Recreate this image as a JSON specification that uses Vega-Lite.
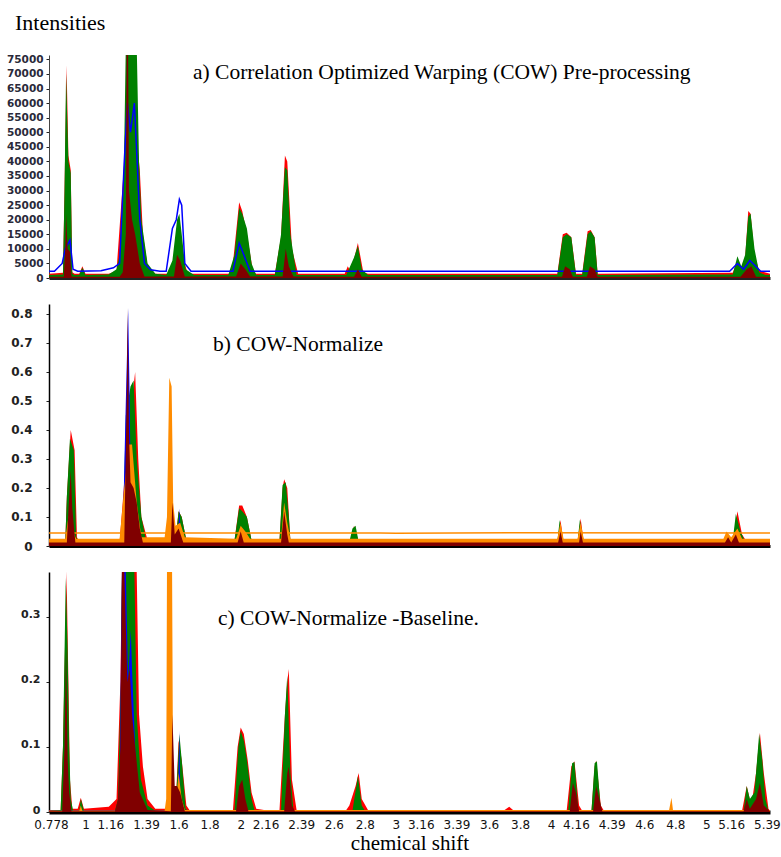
{
"$schema": "https://vega.github.io/schema/vega-lite/v6.json",
"padding": {"left": 5, "top": 12, "right": 11, "bottom": 0},
"config": {"view": {"stroke": null}, "font": "DejaVu Sans", "axis": {"grid": false}},
"title": {"text": "Intensities", "anchor": "start", "frame": "bounds", "font": "Liberation Serif", "fontSize": 22, "fontWeight": "normal", "color": "#000", "dx": 10, "offset": 19},
"spacing": 20,
"datasets": {
"a": [
{"s":"g","x":0.765,"y":1000},{"s":"g","x":0.855,"y":1200},{"s":"g","x":0.865,"y":30000},{"s":"g","x":0.875,"y":70000},{"s":"g","x":0.89,"y":40000},{"s":"g","x":0.905,"y":36000},{"s":"g","x":0.915,"y":1500},{"s":"g","x":0.93,"y":1000},{"s":"g","x":0.96,"y":1000},{"s":"g","x":0.98,"y":3500},{"s":"g","x":1.0,"y":1000},{"s":"g","x":1.15,"y":1200},{"s":"g","x":1.2,"y":3000},{"s":"g","x":1.22,"y":8000},{"s":"g","x":1.245,"y":30000},{"s":"g","x":1.26,"y":80000},{"s":"g","x":1.33,"y":80000},{"s":"g","x":1.345,"y":40000},{"s":"g","x":1.36,"y":20000},{"s":"g","x":1.4,"y":5000},{"s":"g","x":1.45,"y":1500},{"s":"g","x":1.52,"y":1000},{"s":"g","x":1.56,"y":6000},{"s":"g","x":1.59,"y":20000},{"s":"g","x":1.605,"y":22000},{"s":"g","x":1.62,"y":15000},{"s":"g","x":1.645,"y":3000},{"s":"g","x":1.7,"y":1000},{"s":"g","x":1.92,"y":1000},{"s":"g","x":1.96,"y":8000},{"s":"g","x":1.99,"y":24000},{"s":"g","x":2.01,"y":22000},{"s":"g","x":2.04,"y":17000},{"s":"g","x":2.07,"y":5000},{"s":"g","x":2.1,"y":1000},{"s":"g","x":2.22,"y":1000},{"s":"g","x":2.26,"y":15000},{"s":"g","x":2.285,"y":38000},{"s":"g","x":2.3,"y":37000},{"s":"g","x":2.32,"y":15000},{"s":"g","x":2.36,"y":1000},{"s":"g","x":2.68,"y":1000},{"s":"g","x":2.73,"y":7000},{"s":"g","x":2.755,"y":11000},{"s":"g","x":2.78,"y":3000},{"s":"g","x":2.82,"y":1000},{"s":"g","x":4.04,"y":1000},{"s":"g","x":4.075,"y":14000},{"s":"g","x":4.1,"y":15000},{"s":"g","x":4.13,"y":14000},{"s":"g","x":4.16,"y":1000},{"s":"g","x":4.2,"y":1000},{"s":"g","x":4.235,"y":15000},{"s":"g","x":4.255,"y":16000},{"s":"g","x":4.28,"y":14000},{"s":"g","x":4.3,"y":1000},{"s":"g","x":5.17,"y":1200},{"s":"g","x":5.2,"y":7500},{"s":"g","x":5.225,"y":4000},{"s":"g","x":5.25,"y":8000},{"s":"g","x":5.27,"y":21000},{"s":"g","x":5.285,"y":22000},{"s":"g","x":5.31,"y":10000},{"s":"g","x":5.34,"y":2000},{"s":"g","x":5.38,"y":1000},{"s":"g","x":5.41,"y":1000},
{"s":"r","x":0.765,"y":1500},{"s":"r","x":0.855,"y":1800},{"s":"r","x":0.865,"y":30000},{"s":"r","x":0.878,"y":73000},{"s":"r","x":0.89,"y":42000},{"s":"r","x":0.905,"y":37000},{"s":"r","x":0.915,"y":2000},{"s":"r","x":0.93,"y":1500},{"s":"r","x":0.96,"y":1500},{"s":"r","x":0.98,"y":4000},{"s":"r","x":1.0,"y":1500},{"s":"r","x":1.15,"y":1500},{"s":"r","x":1.2,"y":2500},{"s":"r","x":1.25,"y":40000},{"s":"r","x":1.27,"y":80000},{"s":"r","x":1.32,"y":80000},{"s":"r","x":1.335,"y":45000},{"s":"r","x":1.35,"y":37000},{"s":"r","x":1.37,"y":15000},{"s":"r","x":1.4,"y":4000},{"s":"r","x":1.45,"y":1500},{"s":"r","x":1.53,"y":1500},{"s":"r","x":1.56,"y":5000},{"s":"r","x":1.59,"y":10000},{"s":"r","x":1.605,"y":9000},{"s":"r","x":1.62,"y":8000},{"s":"r","x":1.66,"y":1500},{"s":"r","x":1.93,"y":1500},{"s":"r","x":1.95,"y":5000},{"s":"r","x":1.99,"y":26000},{"s":"r","x":2.01,"y":23000},{"s":"r","x":2.04,"y":15000},{"s":"r","x":2.08,"y":2000},{"s":"r","x":2.1,"y":1500},{"s":"r","x":2.22,"y":1500},{"s":"r","x":2.26,"y":14000},{"s":"r","x":2.285,"y":42000},{"s":"r","x":2.3,"y":40000},{"s":"r","x":2.33,"y":10000},{"s":"r","x":2.37,"y":1500},{"s":"r","x":2.67,"y":1500},{"s":"r","x":2.69,"y":4000},{"s":"r","x":2.71,"y":2000},{"s":"r","x":2.755,"y":12000},{"s":"r","x":2.79,"y":2000},{"s":"r","x":2.82,"y":1500},{"s":"r","x":4.04,"y":1500},{"s":"r","x":4.075,"y":15000},{"s":"r","x":4.1,"y":15500},{"s":"r","x":4.13,"y":14000},{"s":"r","x":4.16,"y":1500},{"s":"r","x":4.2,"y":1500},{"s":"r","x":4.235,"y":16000},{"s":"r","x":4.255,"y":16500},{"s":"r","x":4.28,"y":14000},{"s":"r","x":4.3,"y":1500},{"s":"r","x":5.17,"y":1800},{"s":"r","x":5.2,"y":6000},{"s":"r","x":5.225,"y":3000},{"s":"r","x":5.25,"y":7000},{"s":"r","x":5.27,"y":23000},{"s":"r","x":5.285,"y":22000},{"s":"r","x":5.31,"y":8000},{"s":"r","x":5.34,"y":2500},{"s":"r","x":5.41,"y":1500},
{"s":"b","x":0.765,"y":2300},{"s":"b","x":0.8,"y":2300},{"s":"b","x":0.85,"y":5000},{"s":"b","x":0.87,"y":10000},{"s":"b","x":0.9,"y":13000},{"s":"b","x":0.92,"y":3000},{"s":"b","x":0.95,"y":2300},{"s":"b","x":1.1,"y":2500},{"s":"b","x":1.18,"y":3500},{"s":"b","x":1.22,"y":5000},{"s":"b","x":1.25,"y":40000},{"s":"b","x":1.27,"y":60000},{"s":"b","x":1.29,"y":50000},{"s":"b","x":1.315,"y":60000},{"s":"b","x":1.33,"y":43000},{"s":"b","x":1.35,"y":20000},{"s":"b","x":1.38,"y":5000},{"s":"b","x":1.42,"y":2800},{"s":"b","x":1.48,"y":2300},{"s":"b","x":1.52,"y":2300},{"s":"b","x":1.56,"y":17000},{"s":"b","x":1.585,"y":20000},{"s":"b","x":1.605,"y":27000},{"s":"b","x":1.62,"y":25000},{"s":"b","x":1.64,"y":5000},{"s":"b","x":1.68,"y":2300},{"s":"b","x":1.95,"y":2300},{"s":"b","x":1.99,"y":12000},{"s":"b","x":2.02,"y":8000},{"s":"b","x":2.06,"y":2300},{"s":"b","x":5.15,"y":2300},{"s":"b","x":5.2,"y":5000},{"s":"b","x":5.24,"y":3000},{"s":"b","x":5.28,"y":6000},{"s":"b","x":5.35,"y":2300},{"s":"b","x":5.41,"y":2300},
{"s":"o","x":0.765,"y":200},{"s":"o","x":1.24,"y":200},{"s":"o","x":1.26,"y":2500},{"s":"o","x":1.3,"y":3000},{"s":"o","x":1.32,"y":1500},{"s":"o","x":1.34,"y":200},{"s":"o","x":5.41,"y":200},
{"s":"d","x":0.765,"y":400},{"s":"d","x":0.86,"y":400},{"s":"d","x":0.87,"y":10000},{"s":"d","x":0.875,"y":22000},{"s":"d","x":0.885,"y":10000},{"s":"d","x":0.9,"y":9000},{"s":"d","x":0.91,"y":400},{"s":"d","x":1.22,"y":400},{"s":"d","x":1.24,"y":2000},{"s":"d","x":1.26,"y":15000},{"s":"d","x":1.265,"y":76500},{"s":"d","x":1.275,"y":76500},{"s":"d","x":1.28,"y":30000},{"s":"d","x":1.3,"y":20000},{"s":"d","x":1.32,"y":15000},{"s":"d","x":1.35,"y":5000},{"s":"d","x":1.38,"y":500},{"s":"d","x":1.57,"y":500},{"s":"d","x":1.59,"y":8000},{"s":"d","x":1.61,"y":6000},{"s":"d","x":1.64,"y":500},{"s":"d","x":1.97,"y":500},{"s":"d","x":2.0,"y":5000},{"s":"d","x":2.03,"y":3000},{"s":"d","x":2.06,"y":500},{"s":"d","x":2.27,"y":500},{"s":"d","x":2.29,"y":10000},{"s":"d","x":2.31,"y":4000},{"s":"d","x":2.34,"y":500},{"s":"d","x":2.73,"y":400},{"s":"d","x":2.755,"y":3000},{"s":"d","x":2.78,"y":400},{"s":"d","x":4.07,"y":400},{"s":"d","x":4.09,"y":4000},{"s":"d","x":4.12,"y":3000},{"s":"d","x":4.14,"y":400},{"s":"d","x":4.23,"y":400},{"s":"d","x":4.25,"y":4000},{"s":"d","x":4.28,"y":3000},{"s":"d","x":4.3,"y":400},{"s":"d","x":5.22,"y":400},{"s":"d","x":5.26,"y":3000},{"s":"d","x":5.29,"y":4000},{"s":"d","x":5.32,"y":400},{"s":"d","x":5.41,"y":400}
],
"b": [
{"s":"r","x":0.765,"y":0.015},{"s":"r","x":0.87,"y":0.015},{"s":"r","x":0.88,"y":0.17},{"s":"r","x":0.905,"y":0.4},{"s":"r","x":0.93,"y":0.33},{"s":"r","x":0.945,"y":0.03},{"s":"r","x":0.96,"y":0.015},{"s":"r","x":1.22,"y":0.015},{"s":"r","x":1.24,"y":0.15},{"s":"r","x":1.26,"y":0.3},{"s":"r","x":1.3,"y":0.5},{"s":"r","x":1.32,"y":0.6},{"s":"r","x":1.34,"y":0.3},{"s":"r","x":1.36,"y":0.1},{"s":"r","x":1.4,"y":0.02},{"s":"r","x":1.58,"y":0.02},{"s":"r","x":1.6,"y":0.12},{"s":"r","x":1.62,"y":0.1},{"s":"r","x":1.65,"y":0.02},{"s":"r","x":1.96,"y":0.02},{"s":"r","x":1.99,"y":0.14},{"s":"r","x":2.01,"y":0.14},{"s":"r","x":2.04,"y":0.1},{"s":"r","x":2.07,"y":0.02},{"s":"r","x":2.25,"y":0.02},{"s":"r","x":2.27,"y":0.2},{"s":"r","x":2.28,"y":0.23},{"s":"r","x":2.3,"y":0.2},{"s":"r","x":2.32,"y":0.02},{"s":"r","x":2.71,"y":0.015},{"s":"r","x":2.73,"y":0.07},{"s":"r","x":2.76,"y":0.015},{"s":"r","x":4.04,"y":0.015},{"s":"r","x":4.06,"y":0.09},{"s":"r","x":4.08,"y":0.015},{"s":"r","x":4.17,"y":0.015},{"s":"r","x":4.19,"y":0.095},{"s":"r","x":4.21,"y":0.015},{"s":"r","x":5.17,"y":0.015},{"s":"r","x":5.2,"y":0.12},{"s":"r","x":5.23,"y":0.04},{"s":"r","x":5.26,"y":0.015},{"s":"r","x":5.41,"y":0.015},
{"s":"g","x":0.765,"y":0.015},{"s":"g","x":0.87,"y":0.015},{"s":"g","x":0.88,"y":0.17},{"s":"g","x":0.9,"y":0.37},{"s":"g","x":0.925,"y":0.33},{"s":"g","x":0.94,"y":0.03},{"s":"g","x":0.96,"y":0.015},{"s":"g","x":0.98,"y":0.02},{"s":"g","x":1.22,"y":0.015},{"s":"g","x":1.245,"y":0.12},{"s":"g","x":1.26,"y":0.45},{"s":"g","x":1.29,"y":0.55},{"s":"g","x":1.31,"y":0.57},{"s":"g","x":1.33,"y":0.3},{"s":"g","x":1.36,"y":0.1},{"s":"g","x":1.39,"y":0.02},{"s":"g","x":1.58,"y":0.02},{"s":"g","x":1.6,"y":0.12},{"s":"g","x":1.62,"y":0.1},{"s":"g","x":1.65,"y":0.02},{"s":"g","x":1.96,"y":0.02},{"s":"g","x":1.99,"y":0.13},{"s":"g","x":2.01,"y":0.12},{"s":"g","x":2.04,"y":0.1},{"s":"g","x":2.07,"y":0.02},{"s":"g","x":2.25,"y":0.02},{"s":"g","x":2.27,"y":0.21},{"s":"g","x":2.29,"y":0.22},{"s":"g","x":2.31,"y":0.1},{"s":"g","x":2.32,"y":0.02},{"s":"g","x":2.7,"y":0.015},{"s":"g","x":2.72,"y":0.06},{"s":"g","x":2.74,"y":0.07},{"s":"g","x":2.76,"y":0.015},{"s":"g","x":4.04,"y":0.015},{"s":"g","x":4.055,"y":0.09},{"s":"g","x":4.075,"y":0.015},{"s":"g","x":4.17,"y":0.015},{"s":"g","x":4.185,"y":0.09},{"s":"g","x":4.21,"y":0.015},{"s":"g","x":5.12,"y":0.015},{"s":"g","x":5.14,"y":0.04},{"s":"g","x":5.17,"y":0.02},{"s":"g","x":5.19,"y":0.11},{"s":"g","x":5.22,"y":0.05},{"s":"g","x":5.25,"y":0.015},{"s":"g","x":5.41,"y":0.015},
{"s":"b","x":0.765,"y":0.012},{"s":"b","x":1.24,"y":0.012},{"s":"b","x":1.25,"y":0.27},{"s":"b","x":1.26,"y":0.5},{"s":"b","x":1.275,"y":0.82},{"s":"b","x":1.285,"y":0.5},{"s":"b","x":1.29,"y":0.25},{"s":"b","x":1.3,"y":0.2},{"s":"b","x":1.32,"y":0.05},{"s":"b","x":1.34,"y":0.012},{"s":"b","x":1.595,"y":0.012},{"s":"b","x":1.605,"y":0.13},{"s":"b","x":1.615,"y":0.012},{"s":"b","x":5.41,"y":0.012},
{"s":"o1","x":0.765,"y":0.045},{"s":"o1","x":2.9,"y":0.045},{"s":"o1","x":3.0,"y":0.044},{"s":"o1","x":3.8,"y":0.046},{"s":"o1","x":5.41,"y":0.045},
{"s":"o","x":0.765,"y":0.025},{"s":"o","x":0.87,"y":0.025},{"s":"o","x":0.89,"y":0.1},{"s":"o","x":0.905,"y":0.12},{"s":"o","x":0.92,"y":0.05},{"s":"o","x":0.94,"y":0.025},{"s":"o","x":1.22,"y":0.025},{"s":"o","x":1.25,"y":0.2},{"s":"o","x":1.28,"y":0.35},{"s":"o","x":1.3,"y":0.35},{"s":"o","x":1.33,"y":0.15},{"s":"o","x":1.36,"y":0.03},{"s":"o","x":1.51,"y":0.03},{"s":"o","x":1.525,"y":0.1},{"s":"o","x":1.54,"y":0.58},{"s":"o","x":1.555,"y":0.55},{"s":"o","x":1.565,"y":0.15},{"s":"o","x":1.58,"y":0.07},{"s":"o","x":1.61,"y":0.08},{"s":"o","x":1.64,"y":0.03},{"s":"o","x":1.97,"y":0.025},{"s":"o","x":2.0,"y":0.07},{"s":"o","x":2.03,"y":0.05},{"s":"o","x":2.06,"y":0.025},{"s":"o","x":2.26,"y":0.025},{"s":"o","x":2.28,"y":0.15},{"s":"o","x":2.3,"y":0.08},{"s":"o","x":2.32,"y":0.025},{"s":"o","x":4.04,"y":0.025},{"s":"o","x":4.06,"y":0.08},{"s":"o","x":4.08,"y":0.025},{"s":"o","x":4.17,"y":0.025},{"s":"o","x":4.19,"y":0.08},{"s":"o","x":4.21,"y":0.025},{"s":"o","x":5.11,"y":0.025},{"s":"o","x":5.13,"y":0.05},{"s":"o","x":5.16,"y":0.03},{"s":"o","x":5.2,"y":0.06},{"s":"o","x":5.23,"y":0.025},{"s":"o","x":5.41,"y":0.025},
{"s":"d","x":0.765,"y":0.012},{"s":"d","x":0.88,"y":0.012},{"s":"d","x":0.89,"y":0.12},{"s":"d","x":0.905,"y":0.26},{"s":"d","x":0.915,"y":0.13},{"s":"d","x":0.935,"y":0.012},{"s":"d","x":1.25,"y":0.012},{"s":"d","x":1.265,"y":0.5},{"s":"d","x":1.272,"y":0.82},{"s":"d","x":1.28,"y":0.4},{"s":"d","x":1.29,"y":0.22},{"s":"d","x":1.31,"y":0.2},{"s":"d","x":1.33,"y":0.15},{"s":"d","x":1.35,"y":0.06},{"s":"d","x":1.37,"y":0.012},{"s":"d","x":1.55,"y":0.012},{"s":"d","x":1.56,"y":0.15},{"s":"d","x":1.575,"y":0.04},{"s":"d","x":1.6,"y":0.06},{"s":"d","x":1.63,"y":0.012},{"s":"d","x":1.98,"y":0.012},{"s":"d","x":2.0,"y":0.05},{"s":"d","x":2.02,"y":0.012},{"s":"d","x":2.26,"y":0.012},{"s":"d","x":2.28,"y":0.12},{"s":"d","x":2.3,"y":0.04},{"s":"d","x":2.31,"y":0.012},{"s":"d","x":4.045,"y":0.012},{"s":"d","x":4.06,"y":0.05},{"s":"d","x":4.075,"y":0.012},{"s":"d","x":4.18,"y":0.012},{"s":"d","x":4.19,"y":0.05},{"s":"d","x":4.205,"y":0.012},{"s":"d","x":5.12,"y":0.012},{"s":"d","x":5.14,"y":0.03},{"s":"d","x":5.16,"y":0.012},{"s":"d","x":5.19,"y":0.04},{"s":"d","x":5.21,"y":0.012},{"s":"d","x":5.41,"y":0.012}
],
"c": [
{"s":"r","x":0.765,"y":0.003},{"s":"r","x":0.84,"y":0.003},{"s":"r","x":0.855,"y":0.1},{"s":"r","x":0.872,"y":0.3},{"s":"r","x":0.878,"y":0.37},{"s":"r","x":0.89,"y":0.2},{"s":"r","x":0.9,"y":0.05},{"s":"r","x":0.915,"y":0.005},{"s":"r","x":0.95,"y":0.005},{"s":"r","x":0.97,"y":0.022},{"s":"r","x":0.99,"y":0.005},{"s":"r","x":1.15,"y":0.008},{"s":"r","x":1.2,"y":0.02},{"s":"r","x":1.225,"y":0.2},{"s":"r","x":1.235,"y":0.37},{"s":"r","x":1.33,"y":0.37},{"s":"r","x":1.345,"y":0.15},{"s":"r","x":1.37,"y":0.07},{"s":"r","x":1.4,"y":0.02},{"s":"r","x":1.45,"y":0.005},{"s":"r","x":1.58,"y":0.005},{"s":"r","x":1.6,"y":0.11},{"s":"r","x":1.62,"y":0.08},{"s":"r","x":1.65,"y":0.01},{"s":"r","x":1.67,"y":0.003},{"s":"r","x":1.95,"y":0.003},{"s":"r","x":1.98,"y":0.1},{"s":"r","x":2.0,"y":0.13},{"s":"r","x":2.02,"y":0.12},{"s":"r","x":2.045,"y":0.08},{"s":"r","x":2.07,"y":0.03},{"s":"r","x":2.1,"y":0.005},{"s":"r","x":2.15,"y":0.003},{"s":"r","x":2.25,"y":0.003},{"s":"r","x":2.285,"y":0.15},{"s":"r","x":2.3,"y":0.2},{"s":"r","x":2.31,"y":0.22},{"s":"r","x":2.33,"y":0.05},{"s":"r","x":2.36,"y":0.003},{"s":"r","x":2.68,"y":0.003},{"s":"r","x":2.7,"y":0.01},{"s":"r","x":2.74,"y":0.04},{"s":"r","x":2.76,"y":0.06},{"s":"r","x":2.78,"y":0.02},{"s":"r","x":2.82,"y":0.003},{"s":"r","x":3.7,"y":0.003},{"s":"r","x":3.73,"y":0.008},{"s":"r","x":3.76,"y":0.002},{"s":"r","x":4.1,"y":0.002},{"s":"r","x":4.13,"y":0.07},{"s":"r","x":4.15,"y":0.078},{"s":"r","x":4.18,"y":0.01},{"s":"r","x":4.2,"y":0.002},{"s":"r","x":4.26,"y":0.002},{"s":"r","x":4.28,"y":0.07},{"s":"r","x":4.29,"y":0.079},{"s":"r","x":4.32,"y":0.01},{"s":"r","x":4.34,"y":0.002},{"s":"r","x":5.23,"y":0.002},{"s":"r","x":5.26,"y":0.04},{"s":"r","x":5.29,"y":0.01},{"s":"r","x":5.32,"y":0.06},{"s":"r","x":5.345,"y":0.122},{"s":"r","x":5.37,"y":0.06},{"s":"r","x":5.4,"y":0.005},{"s":"r","x":5.41,"y":0.002},
{"s":"g","x":0.765,"y":0.002},{"s":"g","x":0.84,"y":0.003},{"s":"g","x":0.855,"y":0.1},{"s":"g","x":0.873,"y":0.36},{"s":"g","x":0.885,"y":0.25},{"s":"g","x":0.895,"y":0.1},{"s":"g","x":0.905,"y":0.02},{"s":"g","x":0.92,"y":0.002},{"s":"g","x":0.96,"y":0.002},{"s":"g","x":0.97,"y":0.02},{"s":"g","x":0.99,"y":0.002},{"s":"g","x":1.19,"y":0.002},{"s":"g","x":1.21,"y":0.02},{"s":"g","x":1.228,"y":0.2},{"s":"g","x":1.235,"y":0.37},{"s":"g","x":1.315,"y":0.37},{"s":"g","x":1.33,"y":0.15},{"s":"g","x":1.357,"y":0.05},{"s":"g","x":1.4,"y":0.01},{"s":"g","x":1.45,"y":0.002},{"s":"g","x":1.58,"y":0.002},{"s":"g","x":1.605,"y":0.12},{"s":"g","x":1.62,"y":0.08},{"s":"g","x":1.645,"y":0.005},{"s":"g","x":1.66,"y":0.002},{"s":"g","x":1.96,"y":0.002},{"s":"g","x":1.985,"y":0.1},{"s":"g","x":2.0,"y":0.125},{"s":"g","x":2.02,"y":0.11},{"s":"g","x":2.04,"y":0.08},{"s":"g","x":2.07,"y":0.02},{"s":"g","x":2.09,"y":0.002},{"s":"g","x":2.26,"y":0.002},{"s":"g","x":2.285,"y":0.15},{"s":"g","x":2.3,"y":0.21},{"s":"g","x":2.32,"y":0.06},{"s":"g","x":2.34,"y":0.002},{"s":"g","x":2.72,"y":0.002},{"s":"g","x":2.745,"y":0.04},{"s":"g","x":2.755,"y":0.055},{"s":"g","x":2.78,"y":0.01},{"s":"g","x":2.8,"y":0.002},{"s":"g","x":4.11,"y":0.002},{"s":"g","x":4.135,"y":0.075},{"s":"g","x":4.15,"y":0.077},{"s":"g","x":4.175,"y":0.003},{"s":"g","x":4.26,"y":0.002},{"s":"g","x":4.28,"y":0.075},{"s":"g","x":4.295,"y":0.078},{"s":"g","x":4.32,"y":0.003},{"s":"g","x":5.24,"y":0.002},{"s":"g","x":5.26,"y":0.04},{"s":"g","x":5.28,"y":0.02},{"s":"g","x":5.31,"y":0.03},{"s":"g","x":5.34,"y":0.12},{"s":"g","x":5.36,"y":0.08},{"s":"g","x":5.38,"y":0.02},{"s":"g","x":5.4,"y":0.002},{"s":"g","x":5.41,"y":0.002},
{"s":"b","x":0.765,"y":0.002},{"s":"b","x":1.22,"y":0.002},{"s":"b","x":1.228,"y":0.22},{"s":"b","x":1.235,"y":0.37},{"s":"b","x":1.26,"y":0.37},{"s":"b","x":1.275,"y":0.2},{"s":"b","x":1.292,"y":0.28},{"s":"b","x":1.3,"y":0.22},{"s":"b","x":1.32,"y":0.1},{"s":"b","x":1.34,"y":0.002},{"s":"b","x":1.595,"y":0.002},{"s":"b","x":1.605,"y":0.125},{"s":"b","x":1.612,"y":0.002},{"s":"b","x":5.41,"y":0.002},
{"s":"o","x":0.765,"y":0.002},{"s":"o","x":0.87,"y":0.002},{"s":"o","x":0.875,"y":0.04},{"s":"o","x":0.88,"y":0.002},{"s":"o","x":0.96,"y":0.002},{"s":"o","x":0.97,"y":0.01},{"s":"o","x":0.98,"y":0.002},{"s":"o","x":1.51,"y":0.002},{"s":"o","x":1.52,"y":0.02},{"s":"o","x":1.525,"y":0.37},{"s":"o","x":1.558,"y":0.37},{"s":"o","x":1.565,"y":0.02},{"s":"o","x":1.58,"y":0.005},{"s":"o","x":1.6,"y":0.06},{"s":"o","x":1.62,"y":0.02},{"s":"o","x":1.64,"y":0.003},{"s":"o","x":1.98,"y":0.003},{"s":"o","x":2.0,"y":0.03},{"s":"o","x":2.02,"y":0.003},{"s":"o","x":4.76,"y":0.003},{"s":"o","x":4.775,"y":0.022},{"s":"o","x":4.785,"y":0.003},{"s":"o","x":5.41,"y":0.003},
{"s":"d","x":0.765,"y":0.001},{"s":"d","x":0.85,"y":0.001},{"s":"d","x":0.865,"y":0.1},{"s":"d","x":0.875,"y":0.25},{"s":"d","x":0.885,"y":0.08},{"s":"d","x":0.895,"y":0.03},{"s":"d","x":0.91,"y":0.001},{"s":"d","x":1.19,"y":0.001},{"s":"d","x":1.21,"y":0.02},{"s":"d","x":1.225,"y":0.1},{"s":"d","x":1.235,"y":0.37},{"s":"d","x":1.25,"y":0.37},{"s":"d","x":1.27,"y":0.2},{"s":"d","x":1.285,"y":0.22},{"s":"d","x":1.3,"y":0.15},{"s":"d","x":1.32,"y":0.1},{"s":"d","x":1.35,"y":0.03},{"s":"d","x":1.4,"y":0.003},{"s":"d","x":1.55,"y":0.001},{"s":"d","x":1.56,"y":0.15},{"s":"d","x":1.575,"y":0.04},{"s":"d","x":1.59,"y":0.04},{"s":"d","x":1.61,"y":0.03},{"s":"d","x":1.64,"y":0.001},{"s":"d","x":1.97,"y":0.001},{"s":"d","x":1.99,"y":0.04},{"s":"d","x":2.01,"y":0.05},{"s":"d","x":2.03,"y":0.02},{"s":"d","x":2.05,"y":0.001},{"s":"d","x":2.28,"y":0.001},{"s":"d","x":2.3,"y":0.06},{"s":"d","x":2.31,"y":0.07},{"s":"d","x":2.33,"y":0.01},{"s":"d","x":2.35,"y":0.001},{"s":"d","x":4.12,"y":0.001},{"s":"d","x":4.14,"y":0.045},{"s":"d","x":4.16,"y":0.03},{"s":"d","x":4.18,"y":0.001},{"s":"d","x":4.27,"y":0.001},{"s":"d","x":4.29,"y":0.04},{"s":"d","x":4.31,"y":0.02},{"s":"d","x":4.33,"y":0.001},{"s":"d","x":5.24,"y":0.001},{"s":"d","x":5.26,"y":0.02},{"s":"d","x":5.28,"y":0.005},{"s":"d","x":5.32,"y":0.02},{"s":"d","x":5.345,"y":0.045},{"s":"d","x":5.37,"y":0.01},{"s":"d","x":5.41,"y":0.001}
]
},
"vconcat": [
{
"width": 721, "height": 223,
"data": {"name": "a"},
"title": {"text": "a) Correlation Optimized Warping (COW) Pre-processing", "anchor": "start", "dx": 188, "offset": -46, "baseline": "alphabetic", "font": "Liberation Serif", "fontSize": 21.5, "fontWeight": "normal", "color": "#000"},
"encoding": {
"x": {"field": "x", "type": "quantitative", "scale": {"domain": [0.765, 5.41], "nice": false, "zero": false}, "axis": {"labels": false, "ticks": false, "title": null, "domainColor": "#222", "domainWidth": 3}},
"y": {"field": "y", "type": "quantitative", "scale": {"domain": [0, 76500], "nice": false}, "axis": {"title": null, "values": [0,5000,10000,15000,20000,25000,30000,35000,40000,45000,50000,55000,60000,65000,70000,75000], "format": "d", "labelFont": "DejaVu Sans", "labelFontSize": 10.5, "labelFontWeight": "bold", "labelColor": "#2a2a3a", "labelPadding": 3, "tickSize": 3, "tickColor": "#222", "domainColor": "#444", "minExtent": 44, "maxExtent": 44}}
},
"layer": [
{"transform": [{"filter": "datum.s == 'r'"}], "mark": {"type": "area", "color": "#ff0000", "clip": true}},
{"transform": [{"filter": "datum.s == 'g'"}], "mark": {"type": "area", "color": "#008000", "clip": true}},
{"transform": [{"filter": "datum.s == 'b'"}], "mark": {"type": "line", "color": "#0000ff", "strokeWidth": 1.5, "clip": true}},
{"transform": [{"filter": "datum.s == 'o'"}], "mark": {"type": "area", "color": "#ff8c00", "clip": true}},
{"transform": [{"filter": "datum.s == 'd'"}], "mark": {"type": "area", "color": "#800000", "clip": true}}
]
},
{
"width": 721, "height": 242,
"data": {"name": "b"},
"title": {"text": "b) COW-Normalize", "anchor": "start", "dx": 208, "offset": -68, "baseline": "alphabetic", "font": "Liberation Serif", "fontSize": 21.5, "fontWeight": "normal", "color": "#000"},
"encoding": {
"x": {"field": "x", "type": "quantitative", "scale": {"domain": [0.765, 5.41], "nice": false, "zero": false}, "axis": {"labels": false, "ticks": false, "title": null, "domainColor": "#000", "domainWidth": 3}},
"y": {"field": "y", "type": "quantitative", "scale": {"domain": [0, 0.834], "nice": false}, "axis": {"title": null, "values": [0,0.1,0.2,0.3,0.4,0.5,0.6,0.7,0.8], "format": ".1~f", "labelFont": "DejaVu Sans", "labelFontSize": 12, "labelFontWeight": "bold", "labelColor": "#222", "labelPadding": 14, "tickSize": 3, "tickColor": "#222", "domainColor": "#000", "domainWidth": 1.5, "minExtent": 44, "maxExtent": 44}}
},
"layer": [
{"transform": [{"filter": "datum.s == 'r'"}], "mark": {"type": "area", "color": "#ff0000", "clip": true}},
{"transform": [{"filter": "datum.s == 'g'"}], "mark": {"type": "area", "color": "#008000", "clip": true}},
{"transform": [{"filter": "datum.s == 'b'"}], "mark": {"type": "area", "color": "#0000ff", "clip": true}},
{"transform": [{"filter": "datum.s == 'o'"}], "mark": {"type": "area", "color": "#ff8c00", "clip": true}},
{"transform": [{"filter": "datum.s == 'o1'"}], "mark": {"type": "line", "color": "#ff8c00", "strokeWidth": 1.5, "clip": true}},
{"transform": [{"filter": "datum.s == 'd'"}], "mark": {"type": "area", "color": "#800000", "clip": true}}
]
},
{
"width": 721, "height": 240,
"data": {"name": "c"},
"title": {"text": "c) COW-Normalize -Baseline.", "anchor": "start", "dx": 213, "offset": -74, "baseline": "alphabetic", "font": "Liberation Serif", "fontSize": 21.5, "fontWeight": "normal", "color": "#000"},
"encoding": {
"x": {"field": "x", "type": "quantitative", "scale": {"domain": [0.765, 5.41], "nice": false, "zero": false}, "axis": {"title": "chemical shift", "titleFont": "Liberation Serif", "titleFontSize": 21, "titleFontWeight": "normal", "titleColor": "#000", "titlePadding": 2, "values": [0.778,1,1.16,1.39,1.6,1.8,2,2.16,2.39,2.6,2.8,3,3.16,3.39,3.6,3.8,4,4.16,4.39,4.6,4.8,5,5.16,5.39], "format": ".3~f", "labelFont": "DejaVu Sans", "labelFontSize": 12, "labelColor": "#111", "labelOverlap": false, "labelPadding": 7, "ticks": false, "domainColor": "#000", "domainWidth": 4}},
"y": {"field": "y", "type": "quantitative", "scale": {"domain": [0, 0.369], "nice": false}, "axis": {"title": null, "values": [0,0.1,0.2,0.3], "format": ".1~f", "labelFont": "DejaVu Sans", "labelFontSize": 11, "labelFontWeight": "bold", "labelColor": "#222", "labelPadding": 6, "labelOffset": -2, "tickSize": 3, "tickColor": "#222", "domainColor": "#000", "domainWidth": 1.5, "minExtent": 44, "maxExtent": 44}}
},
"layer": [
{"transform": [{"filter": "datum.s == 'r'"}], "mark": {"type": "area", "color": "#ff0000", "clip": true}},
{"transform": [{"filter": "datum.s == 'g'"}], "mark": {"type": "area", "color": "#008000", "clip": true}},
{"transform": [{"filter": "datum.s == 'b'"}], "mark": {"type": "area", "color": "#0000ff", "clip": true}},
{"transform": [{"filter": "datum.s == 'o'"}], "mark": {"type": "area", "color": "#ff8c00", "clip": true}},
{"transform": [{"filter": "datum.s == 'd'"}], "mark": {"type": "area", "color": "#800000", "clip": true}}
]
}
]
}
